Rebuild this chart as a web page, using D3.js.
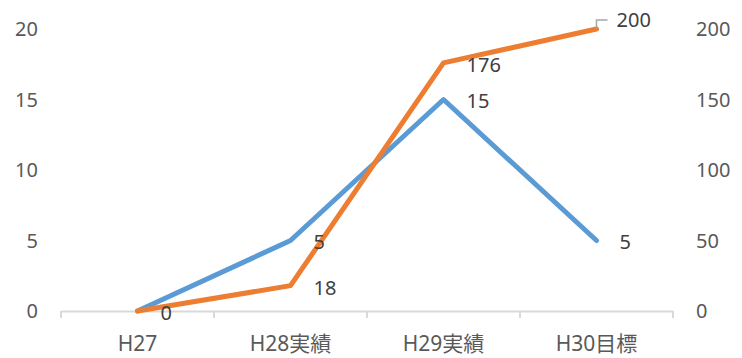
<!DOCTYPE html>
<html>
<head>
<meta charset="utf-8">
<script src="https://cdn.jsdelivr.net/npm/d3@7"></script>
<style>
  body { margin: 0; background: #fff; }
  text { font-family: "Noto Sans", "Noto Sans CJK JP", sans-serif; }
</style>
</head>
<body>
<script>
var width = 742;
var height = 358;

// data
var categories = ["H27", "H28実績", "H29実績", "H30目標"];
var leftValues = [0, 5, 15, 5];       // blue, left axis
var rightValues = [0, 18, 176, 200];  // orange, right axis
var leftTicks = [0, 5, 10, 15, 20];
var rightTicks = [0, 50, 100, 150, 200];

var svg = d3.select("body").append("svg")
    .attr("width", width)
    .attr("height", height);

var margin = { top: 29, bottom: 47, left: 61, right: 69 };
var plotW = width - margin.left - margin.right;
var plotH = height - margin.top - margin.bottom;

var g = svg.append("g")
    .attr("transform", "translate(" + margin.left + "," + margin.top + ")");

var x = d3.scaleBand().domain(categories).range([0, plotW]);
var yL = d3.scaleLinear().domain([0, 20]).range([plotH, 0]);
var yR = d3.scaleLinear().domain([0, 200]).range([plotH, 0]);
var cx = function (d, i) { return x(categories[i]) + x.bandwidth() / 2; };

// left axis (labels only)
g.selectAll(".ly").data(leftTicks).join("text")
    .attr("x", -23).attr("y", function (d) { return yL(d); })
    .attr("text-anchor", "end").attr("dy", "0.35em")
    .attr("font-size", 20).attr("fill", "#595959")
    .text(function (d) { return d; });

// right axis (labels only)
g.selectAll(".ry").data(rightTicks).join("text")
    .attr("x", plotW + 23).attr("y", function (d) { return yR(d); })
    .attr("text-anchor", "start").attr("dy", "0.35em")
    .attr("font-size", 20).attr("fill", "#595959")
    .text(function (d) { return d; });

// x axis
var xAxis = d3.axisBottom(x).tickSize(0).tickPadding(25);
var xg = g.append("g").attr("transform", "translate(0," + plotH + ")").call(xAxis);
xg.select(".domain").attr("stroke", "#d9d9d9").attr("stroke-width", 2);
xg.selectAll("text").attr("font-size", 21).attr("fill", "#595959")
    .attr("font-family", '"Noto Sans CJK JP", sans-serif');
// category boundary ticks
var bounds = categories.map(function (c) { return x(c); }).concat([plotW]);
xg.selectAll(".btick").data(bounds).join("line")
    .attr("x1", function (d) { return d; }).attr("x2", function (d) { return d; })
    .attr("y1", 0).attr("y2", 7)
    .attr("stroke", "#d9d9d9").attr("stroke-width", 2);

// lines
var lineL = d3.line().x(cx).y(function (d) { return yL(d); });
var lineR = d3.line().x(cx).y(function (d) { return yR(d); });

g.append("path").datum(leftValues)
    .attr("d", lineL).attr("fill", "none")
    .attr("stroke", "#5B9BD5").attr("stroke-width", 5)
    .attr("stroke-linejoin", "round").attr("stroke-linecap", "round");

g.append("path").datum(rightValues)
    .attr("d", lineR).attr("fill", "none")
    .attr("stroke", "#ED7D31").attr("stroke-width", 5)
    .attr("stroke-linejoin", "round").attr("stroke-linecap", "round");

// data labels
g.selectAll(".lbL").data(leftValues).join("text")
    .filter(function (d, i) { return i > 0; })
    .attr("x", function (d, i) { return cx(d, i + 1) + 23; })
    .attr("y", function (d) { return yL(d) + 1; })
    .attr("dy", "0.35em").attr("font-size", 20).attr("fill", "#404040")
    .text(function (d) { return d; });

g.selectAll(".lbR").data(rightValues).join("text")
    .attr("x", function (d, i) { return cx(d, i) + (i === 3 ? 20 : 23); })
    .attr("y", function (d, i) { return i === 3 ? yR(d) - 9 : yR(d) + 2; })
    .attr("dy", "0.35em").attr("font-size", 20).attr("fill", "#404040")
    .text(function (d) { return d; });

// leader line for the last orange label
var lx = cx(0, 3), ly = yR(rightValues[3]);
g.append("path")
    .attr("d", "M" + lx + "," + (ly - 1) + "V" + (ly - 9) + "H" + (lx + 11))
    .attr("fill", "none").attr("stroke", "#a6a6a6").attr("stroke-width", 1.5);
</script>
</body>
</html>
